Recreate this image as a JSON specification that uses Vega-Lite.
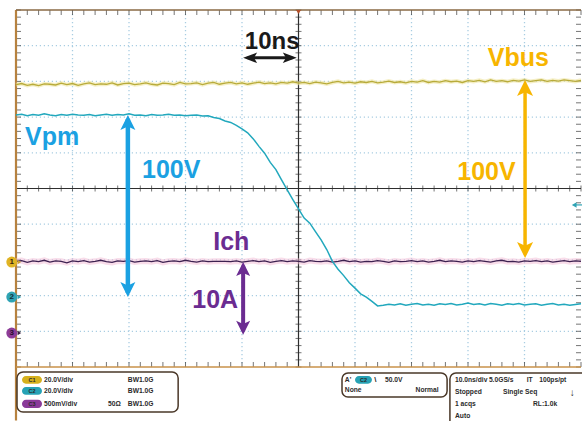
{
"$schema": "https://vega.github.io/schema/vega-lite/v6.json",
"width": 565, "height": 357,
"autosize": {"type": "none"},
"padding": {"left": 16, "top": 10, "right": 1, "bottom": 54},
"background": "white",
"config": {"view": {"stroke": null}, "axis": {"disable": true}, "text": {"font": "Liberation Sans"}},
"datasets": {
"trace": [
{"t":0,"vbus":2.91,"vpm":2.06,"ich":-2.04},{"t":1,"vbus":2.94,"vpm":2.08,"ich":-2.02},{"t":2,"vbus":2.89,"vpm":2.04,"ich":-2.07},{"t":3,"vbus":2.92,"vpm":2.07,"ich":-2.03},{"t":4,"vbus":2.88,"vpm":2.05,"ich":-2.05},{"t":5,"vbus":2.93,"vpm":2.09,"ich":-2.01},{"t":6,"vbus":2.92,"vpm":2.06,"ich":-2.06},{"t":7,"vbus":2.90,"vpm":2.04,"ich":-2.03},{"t":8,"vbus":2.95,"vpm":2.07,"ich":-2.04},{"t":9,"vbus":2.91,"vpm":2.05,"ich":-2.08},
{"t":10,"vbus":2.94,"vpm":2.08,"ich":-2.03},{"t":11,"vbus":2.89,"vpm":2.06,"ich":-2.05},{"t":12,"vbus":2.93,"vpm":2.05,"ich":-2.02},{"t":13,"vbus":2.96,"vpm":2.07,"ich":-2.06},{"t":14,"vbus":2.91,"vpm":2.04,"ich":-2.04},{"t":15,"vbus":2.93,"vpm":2.06,"ich":-2.01},{"t":16,"vbus":2.92,"vpm":2.08,"ich":-2.05},{"t":17,"vbus":2.96,"vpm":2.05,"ich":-2.07},{"t":18,"vbus":2.90,"vpm":2.07,"ich":-2.03},{"t":19,"vbus":2.94,"vpm":2.06,"ich":-2.04},
{"t":20,"vbus":2.95,"vpm":2.09,"ich":-2.02},{"t":21,"vbus":2.91,"vpm":2.05,"ich":-2.06},{"t":22,"vbus":2.93,"vpm":2.06,"ich":-2.04},{"t":23,"vbus":2.96,"vpm":2.04,"ich":-2.03},{"t":24,"vbus":2.92,"vpm":2.07,"ich":-2.05},{"t":25,"vbus":2.90,"vpm":2.05,"ich":-2.02},{"t":26,"vbus":2.95,"vpm":2.06,"ich":-2.07},{"t":27,"vbus":2.94,"vpm":2.08,"ich":-2.04},{"t":28,"vbus":2.91,"vpm":2.05,"ich":-2.03},{"t":29,"vbus":2.97,"vpm":2.06,"ich":-2.05},
{"t":30,"vbus":2.93,"vpm":2.04,"ich":-2.01},{"t":31,"vbus":2.94,"vpm":2.05,"ich":-2.04},{"t":32,"vbus":2.96,"vpm":2.06,"ich":-2.06},{"t":33,"vbus":2.91,"vpm":2.03,"ich":-2.03},{"t":34,"vbus":2.95,"vpm":2.04,"ich":-2.05},{"t":35,"vbus":2.97,"vpm":1.99,"ich":-2.04},{"t":36,"vbus":2.92,"vpm":1.96,"ich":-2.04},{"t":37,"vbus":2.95,"vpm":1.89,"ich":-2.04},{"t":38,"vbus":2.97,"vpm":1.85,"ich":-2.05},{"t":39,"vbus":2.93,"vpm":1.77,"ich":-2.03},
{"t":40,"vbus":2.96,"vpm":1.67,"ich":-2.06},{"t":41,"vbus":2.92,"vpm":1.56,"ich":-2.04},{"t":42,"vbus":2.95,"vpm":1.39,"ich":-2.02},{"t":43,"vbus":2.98,"vpm":1.18,"ich":-2.05},{"t":44,"vbus":2.94,"vpm":0.99,"ich":-2.03},{"t":45,"vbus":2.96,"vpm":0.73,"ich":-2.07},{"t":46,"vbus":2.93,"vpm":0.53,"ich":-2.04},{"t":47,"vbus":2.97,"vpm":0.24,"ich":-2.02},{"t":48,"vbus":2.95,"vpm":-0.04,"ich":-2.05},{"t":49,"vbus":2.99,"vpm":-0.31,"ich":-2.03},
{"t":50,"vbus":2.95,"vpm":-0.57,"ich":-2.04},{"t":51,"vbus":2.97,"vpm":-0.83,"ich":-2.06},{"t":52,"vbus":2.94,"vpm":-0.97,"ich":-2.02},{"t":53,"vbus":2.98,"vpm":-1.21,"ich":-2.04},{"t":54,"vbus":2.96,"vpm":-1.44,"ich":-2.05},{"t":55,"vbus":2.93,"vpm":-1.71,"ich":-2.03},{"t":56,"vbus":2.97,"vpm":-2.04,"ich":-2.06},{"t":57,"vbus":3.00,"vpm":-2.26,"ich":-2.04},{"t":58,"vbus":2.96,"vpm":-2.44,"ich":-2.01},{"t":59,"vbus":2.98,"vpm":-2.64,"ich":-2.05},
{"t":60,"vbus":2.95,"vpm":-2.79,"ich":-2.03},{"t":61,"vbus":2.99,"vpm":-2.95,"ich":-2.06},{"t":62,"vbus":2.97,"vpm":-3.04,"ich":-2.04},{"t":63,"vbus":3.00,"vpm":-3.16,"ich":-2.05},{"t":64,"vbus":2.96,"vpm":-3.29,"ich":-2.02},{"t":65,"vbus":2.98,"vpm":-3.27,"ich":-2.04},{"t":66,"vbus":3.01,"vpm":-3.24,"ich":-2.07},{"t":67,"vbus":2.97,"vpm":-3.26,"ich":-2.03},{"t":68,"vbus":2.99,"vpm":-3.23,"ich":-2.05},{"t":69,"vbus":2.96,"vpm":-3.27,"ich":-2.04},
{"t":70,"vbus":3.00,"vpm":-3.24,"ich":-2.02},{"t":71,"vbus":2.98,"vpm":-3.22,"ich":-2.05},{"t":72,"vbus":3.02,"vpm":-3.26,"ich":-2.03},{"t":73,"vbus":2.97,"vpm":-3.24,"ich":-2.06},{"t":74,"vbus":3.00,"vpm":-3.27,"ich":-2.04},{"t":75,"vbus":2.98,"vpm":-3.23,"ich":-2.01},{"t":76,"vbus":3.02,"vpm":-3.25,"ich":-2.05},{"t":77,"vbus":2.99,"vpm":-3.22,"ich":-2.03},{"t":78,"vbus":3.01,"vpm":-3.26,"ich":-2.04},{"t":79,"vbus":2.97,"vpm":-3.24,"ich":-2.06},
{"t":80,"vbus":3.02,"vpm":-3.21,"ich":-2.03},{"t":81,"vbus":3.00,"vpm":-3.25,"ich":-2.05},{"t":82,"vbus":3.03,"vpm":-3.23,"ich":-2.02},{"t":83,"vbus":2.99,"vpm":-3.26,"ich":-2.04},{"t":84,"vbus":3.04,"vpm":-3.22,"ich":-2.06},{"t":85,"vbus":3.00,"vpm":-3.24,"ich":-2.03},{"t":86,"vbus":3.02,"vpm":-3.27,"ich":-2.01},{"t":87,"vbus":2.99,"vpm":-3.23,"ich":-2.05},{"t":88,"vbus":3.03,"vpm":-3.25,"ich":-2.04},{"t":89,"vbus":3.01,"vpm":-3.22,"ich":-2.06},
{"t":90,"vbus":3.04,"vpm":-3.26,"ich":-2.03},{"t":91,"vbus":3.00,"vpm":-3.24,"ich":-2.04},{"t":92,"vbus":3.02,"vpm":-3.23,"ich":-2.02},{"t":93,"vbus":3.04,"vpm":-3.27,"ich":-2.05},{"t":94,"vbus":3.00,"vpm":-3.24,"ich":-2.03},{"t":95,"vbus":3.03,"vpm":-3.22,"ich":-2.06},{"t":96,"vbus":3.01,"vpm":-3.26,"ich":-2.04},{"t":97,"vbus":3.04,"vpm":-3.24,"ich":-2.02},{"t":98,"vbus":3.02,"vpm":-3.27,"ich":-2.05},{"t":99,"vbus":3.00,"vpm":-3.25,"ich":-2.03},
{"t":100,"vbus":3.03,"vpm":-3.23,"ich":-2.04}
],
"gx": [{"t":10},{"t":20},{"t":30},{"t":40},{"t":60},{"t":70},{"t":80},{"t":90}],
"gy": [{"d":-4},{"d":-3},{"d":-2},{"d":-1},{"d":1},{"d":2},{"d":3},{"d":4}],
"xt": [{"t":0},{"t":2},{"t":4},{"t":6},{"t":8},{"t":10},{"t":12},{"t":14},{"t":16},{"t":18},{"t":20},{"t":22},{"t":24},{"t":26},{"t":28},{"t":30},{"t":32},{"t":34},{"t":36},{"t":38},{"t":40},{"t":42},{"t":44},{"t":46},{"t":48},{"t":50},{"t":52},{"t":54},{"t":56},{"t":58},{"t":60},{"t":62},{"t":64},{"t":66},{"t":68},{"t":70},{"t":72},{"t":74},{"t":76},{"t":78},{"t":80},{"t":82},{"t":84},{"t":86},{"t":88},{"t":90},{"t":92},{"t":94},{"t":96},{"t":98},{"t":100}],
"yt": [{"d":-5},{"d":-4.8},{"d":-4.6},{"d":-4.4},{"d":-4.2},{"d":-4},{"d":-3.8},{"d":-3.6},{"d":-3.4},{"d":-3.2},{"d":-3},{"d":-2.8},{"d":-2.6},{"d":-2.4},{"d":-2.2},{"d":-2},{"d":-1.8},{"d":-1.6},{"d":-1.4},{"d":-1.2},{"d":-1},{"d":-0.8},{"d":-0.6},{"d":-0.4},{"d":-0.2},{"d":0},{"d":0.2},{"d":0.4},{"d":0.6},{"d":0.8},{"d":1},{"d":1.2},{"d":1.4},{"d":1.6},{"d":1.8},{"d":2},{"d":2.2},{"d":2.4},{"d":2.6},{"d":2.8},{"d":3},{"d":3.2},{"d":3.4},{"d":3.6},{"d":3.8},{"d":4},{"d":4.2},{"d":4.4},{"d":4.6},{"d":4.8},{"d":5}],
"one": [{}]
},
"layer": [
{"data": {"name": "trace"}, "mark": {"type": "line", "opacity": 0}, "encoding": {
  "x": {"field": "t", "type": "quantitative", "scale": {"domain": [0, 100], "nice": false, "zero": false}, "axis": null},
  "y": {"field": "vbus", "type": "quantitative", "scale": {"domain": [-5, 5], "nice": false, "zero": false}, "axis": null}}},
{"data": {"name": "gx"}, "mark": {"type": "rule", "color": "#a9cde2", "strokeDash": [1.2, 2.8], "strokeWidth": 1.3}, "encoding": {"x": {"field": "t", "type": "quantitative", "axis": null}}},
{"data": {"name": "gy"}, "mark": {"type": "rule", "color": "#a9cde2", "strokeDash": [1.2, 2.8], "strokeWidth": 1.3}, "encoding": {"y": {"field": "d", "type": "quantitative", "axis": null}}},
{"data": {"name": "xt"}, "mark": {"type": "tick", "orient": "vertical", "size": 6, "thickness": 1, "color": "#3a3a3a"}, "encoding": {"x": {"field": "t", "type": "quantitative", "axis": null}, "y": {"datum": 0}}},
{"data": {"name": "xt"}, "mark": {"type": "tick", "orient": "vertical", "size": 5, "thickness": 1, "color": "#3a3a3a", "yOffset": 2.5}, "encoding": {"x": {"field": "t", "type": "quantitative", "axis": null}, "y": {"datum": 5}}},
{"data": {"name": "xt"}, "mark": {"type": "tick", "orient": "vertical", "size": 5, "thickness": 1, "color": "#3a3a3a", "yOffset": -2.5}, "encoding": {"x": {"field": "t", "type": "quantitative", "axis": null}, "y": {"datum": -5}}},
{"data": {"name": "yt"}, "mark": {"type": "tick", "orient": "horizontal", "size": 6, "thickness": 1, "color": "#3a3a3a"}, "encoding": {"y": {"field": "d", "type": "quantitative", "axis": null}, "x": {"datum": 50}}},
{"data": {"name": "yt"}, "mark": {"type": "tick", "orient": "horizontal", "size": 5, "thickness": 1, "color": "#3a3a3a", "xOffset": 2.5}, "encoding": {"y": {"field": "d", "type": "quantitative", "axis": null}, "x": {"datum": 0}}},
{"data": {"name": "yt"}, "mark": {"type": "tick", "orient": "horizontal", "size": 5, "thickness": 1, "color": "#3a3a3a", "xOffset": -2.5}, "encoding": {"y": {"field": "d", "type": "quantitative", "axis": null}, "x": {"datum": 100}}},
{"data": {"name": "one"}, "layer": [
  {"mark": {"type": "rule", "color": "#2e2e2e", "strokeWidth": 1.2}, "encoding": {"x": {"datum": 50}}},
  {"mark": {"type": "rule", "color": "#2e2e2e", "strokeWidth": 1.2}, "encoding": {"y": {"datum": 0}}},
  {"mark": {"type": "rule", "color": "#b7823f", "strokeWidth": 2.2}, "encoding": {"x": {"datum": 0}, "y": {"datum": 5}, "y2": {"datum": -6.5}}},
  {"mark": {"type": "rule", "color": "#8a6a45", "strokeWidth": 1.5}, "encoding": {"y": {"datum": 5}}},
  {"mark": {"type": "rule", "color": "#c8924a", "strokeWidth": 1.5}, "encoding": {"y": {"datum": -5}}}
]},
{"data": {"name": "trace"}, "mark": {"type": "line", "color": "#efe4a0", "strokeWidth": 4, "opacity": 0.6}, "encoding": {"x": {"field": "t", "type": "quantitative", "axis": null}, "y": {"field": "vbus", "type": "quantitative", "axis": null}}},
{"data": {"name": "trace"}, "mark": {"type": "line", "color": "#b8ab3a", "strokeWidth": 1.3}, "encoding": {"x": {"field": "t", "type": "quantitative", "axis": null}, "y": {"field": "vbus", "type": "quantitative", "axis": null}}},
{"data": {"name": "trace"}, "mark": {"type": "line", "color": "#f3bcd6", "strokeWidth": 6, "opacity": 0.5}, "encoding": {"x": {"field": "t", "type": "quantitative", "axis": null}, "y": {"field": "ich", "type": "quantitative", "axis": null}}},
{"data": {"name": "trace"}, "mark": {"type": "line", "color": "#3d2150", "strokeWidth": 1.3}, "encoding": {"x": {"field": "t", "type": "quantitative", "axis": null}, "y": {"field": "ich", "type": "quantitative", "axis": null}}},
{"data": {"name": "trace"}, "mark": {"type": "line", "color": "#22a8bd", "strokeWidth": 1.5}, "encoding": {"x": {"field": "t", "type": "quantitative", "axis": null}, "y": {"field": "vpm", "type": "quantitative", "axis": null}}},
{"data": {"name": "one"}, "layer": [
  {"mark": {"type": "rule", "color": "#1ba1e2", "strokeWidth": 4.5}, "encoding": {"x": {"datum": 19.8}, "y": {"datum": 1.95}, "y2": {"datum": -2.93}}},
  {"mark": {"type": "point", "filled": true, "opacity": 1, "color": "#1ba1e2", "shape": "M0,-1L1,1L0,0.55L-1,1Z", "size": 225, "yOffset": 7.5}, "encoding": {"x": {"datum": 19.8}, "y": {"datum": 2.06}}},
  {"mark": {"type": "point", "filled": true, "opacity": 1, "color": "#1ba1e2", "shape": "M0,1L1,-1L0,-0.55L-1,-1Z", "size": 225, "yOffset": -7.5}, "encoding": {"x": {"datum": 19.8}, "y": {"datum": -3.04}}},
  {"mark": {"type": "rule", "color": "#f7b500", "strokeWidth": 3.5}, "encoding": {"x": {"datum": 90.1}, "y": {"datum": 2.93}, "y2": {"datum": -1.84}}},
  {"mark": {"type": "point", "filled": true, "opacity": 1, "color": "#f7b500", "shape": "M0,-1L1,1L0,0.55L-1,1Z", "size": 256, "yOffset": 8}, "encoding": {"x": {"datum": 90.1}, "y": {"datum": 3.04}}},
  {"mark": {"type": "point", "filled": true, "opacity": 1, "color": "#f7b500", "shape": "M0,1L1,-1L0,-0.55L-1,-1Z", "size": 256, "yOffset": -8}, "encoding": {"x": {"datum": 90.1}, "y": {"datum": -1.95}}},
  {"mark": {"type": "rule", "color": "#6b2c91", "strokeWidth": 4}, "encoding": {"x": {"datum": 40.2}, "y": {"datum": -2.16}, "y2": {"datum": -4.0}}},
  {"mark": {"type": "point", "filled": true, "opacity": 1, "color": "#6b2c91", "shape": "M0,-1L1,1L0,0.55L-1,1Z", "size": 196, "yOffset": 7}, "encoding": {"x": {"datum": 40.2}, "y": {"datum": -2.06}}},
  {"mark": {"type": "point", "filled": true, "opacity": 1, "color": "#6b2c91", "shape": "M0,1L1,-1L0,-0.55L-1,-1Z", "size": 196, "yOffset": -7}, "encoding": {"x": {"datum": 40.2}, "y": {"datum": -4.10}}},
  {"mark": {"type": "rule", "color": "#1a1a1a", "strokeWidth": 3}, "encoding": {"y": {"datum": 3.66}, "x": {"datum": 41.0}, "x2": {"datum": 48.9}}},
  {"mark": {"type": "point", "filled": true, "opacity": 1, "color": "#1a1a1a", "shape": "M-1,0L1,-0.75L0.55,0L1,0.75Z", "size": 196, "xOffset": 7}, "encoding": {"x": {"datum": 40.2}, "y": {"datum": 3.66}}},
  {"mark": {"type": "point", "filled": true, "opacity": 1, "color": "#1a1a1a", "shape": "M1,0L-1,-0.75L-0.55,0L-1,0.75Z", "size": 196, "xOffset": -7}, "encoding": {"x": {"datum": 49.7}, "y": {"datum": 3.66}}},
  {"mark": {"type": "text", "align": "left", "baseline": "alphabetic", "fontSize": 25, "fontWeight": "bold", "color": "#1ba1e2"}, "encoding": {"x": {"datum": 1.59}, "y": {"datum": 1.22}, "text": {"value": "Vpm"}}},
  {"mark": {"type": "text", "align": "left", "baseline": "alphabetic", "fontSize": 25, "fontWeight": "bold", "color": "#1ba1e2"}, "encoding": {"x": {"datum": 22.3}, "y": {"datum": 0.29}, "text": {"value": "100V"}}},
  {"mark": {"type": "text", "align": "left", "baseline": "alphabetic", "fontSize": 24, "fontWeight": "bold", "color": "#1a1a1a"}, "encoding": {"x": {"datum": 40.5}, "y": {"datum": 3.91}, "text": {"value": "10ns"}}},
  {"mark": {"type": "text", "align": "left", "baseline": "alphabetic", "fontSize": 25, "fontWeight": "bold", "color": "#f7b500"}, "encoding": {"x": {"datum": 83.5}, "y": {"datum": 3.43}, "text": {"value": "Vbus"}}},
  {"mark": {"type": "text", "align": "left", "baseline": "alphabetic", "fontSize": 25, "fontWeight": "bold", "color": "#f7b500"}, "encoding": {"x": {"datum": 78.1}, "y": {"datum": 0.24}, "text": {"value": "100V"}}},
  {"mark": {"type": "text", "align": "left", "baseline": "alphabetic", "fontSize": 25, "fontWeight": "bold", "color": "#6b2c91"}, "encoding": {"x": {"datum": 34.9}, "y": {"datum": -1.72}, "text": {"value": "Ich"}}},
  {"mark": {"type": "text", "align": "left", "baseline": "alphabetic", "fontSize": 25, "fontWeight": "bold", "color": "#6b2c91"}, "encoding": {"x": {"datum": 31.2}, "y": {"datum": -3.35}, "text": {"value": "10A"}}},
  {"mark": {"type": "point", "filled": true, "opacity": 1, "color": "#e0b424", "shape": "circle", "size": 120}, "encoding": {"x": {"datum": -0.75}, "y": {"datum": -2.06}}},
  {"mark": {"type": "point", "filled": true, "opacity": 1, "color": "#2ea3b4", "shape": "circle", "size": 120}, "encoding": {"x": {"datum": -0.75}, "y": {"datum": -3.04}}},
  {"mark": {"type": "point", "filled": true, "opacity": 1, "color": "#8d3c98", "shape": "circle", "size": 120}, "encoding": {"x": {"datum": -0.75}, "y": {"datum": -4.05}}},
  {"mark": {"type": "text", "align": "center", "baseline": "middle", "fontSize": 8, "fontWeight": "bold", "color": "#3a2a10"}, "encoding": {"x": {"datum": -0.75}, "y": {"datum": -2.06}, "text": {"value": "1"}}},
  {"mark": {"type": "text", "align": "center", "baseline": "middle", "fontSize": 8, "fontWeight": "bold", "color": "#10303a"}, "encoding": {"x": {"datum": -0.75}, "y": {"datum": -3.04}, "text": {"value": "2"}}},
  {"mark": {"type": "text", "align": "center", "baseline": "middle", "fontSize": 8, "fontWeight": "bold", "color": "#2a1030"}, "encoding": {"x": {"datum": -0.75}, "y": {"datum": -4.05}, "text": {"value": "3"}}},
  {"mark": {"type": "point", "filled": true, "opacity": 1, "color": "#c9a030", "shape": "triangle-right", "size": 18}, "encoding": {"x": {"datum": 0.6}, "y": {"datum": -2.06}}},
  {"mark": {"type": "point", "filled": true, "opacity": 1, "color": "#2ea3b4", "shape": "triangle-right", "size": 18}, "encoding": {"x": {"datum": 0.6}, "y": {"datum": -3.04}}},
  {"mark": {"type": "point", "filled": true, "opacity": 1, "color": "#3a2040", "shape": "triangle-right", "size": 18}, "encoding": {"x": {"datum": 0.6}, "y": {"datum": -4.05}}},
  {"mark": {"type": "point", "filled": true, "opacity": 1, "color": "#2ea3b4", "shape": "triangle-left", "size": 30}, "encoding": {"x": {"datum": 98.8}, "y": {"datum": -0.46}}},
  {"mark": {"type": "rule", "color": "#2ea3b4", "strokeWidth": 1.2}, "encoding": {"x": {"datum": 99.1}, "x2": {"datum": 100.5}, "y": {"datum": -0.46}}},
  {"mark": {"type": "point", "filled": true, "opacity": 1, "color": "#b4502a", "shape": "triangle-down", "size": 24, "yOffset": 2}, "encoding": {"x": {"datum": 50}, "y": {"datum": 5}}},

  {"mark": {"type": "rect", "fill": "white", "stroke": "#4a3828", "strokeWidth": 1.5, "cornerRadius": 6}, "encoding": {"x": {"datum": 0.18}, "x2": {"datum": 28.7}, "y": {"datum": -5.14}, "y2": {"datum": -6.26}}},
  {"mark": {"type": "rect", "fill": "white", "stroke": "#4a3828", "strokeWidth": 1.5, "cornerRadius": 6}, "encoding": {"x": {"datum": 57.7}, "x2": {"datum": 76.3}, "y": {"datum": -5.17}, "y2": {"datum": -5.84}}},
  {"mark": {"type": "rect", "fill": "white", "stroke": "#4a3828", "strokeWidth": 1.5, "cornerRadius": 6}, "encoding": {"x": {"datum": 76.8}, "x2": {"datum": 103}, "y": {"datum": -5.17}, "y2": {"datum": -6.9}}},
  {"mark": {"type": "rect", "fill": "#d6b11c", "cornerRadius": 4}, "encoding": {"x": {"datum": 1.06}, "x2": {"datum": 4.6}, "y": {"datum": -5.25}, "y2": {"datum": -5.47}}},
  {"mark": {"type": "rect", "fill": "#27a2b5", "cornerRadius": 4}, "encoding": {"x": {"datum": 1.06}, "x2": {"datum": 4.6}, "y": {"datum": -5.56}, "y2": {"datum": -5.78}}},
  {"mark": {"type": "rect", "fill": "#8a3b99", "cornerRadius": 4}, "encoding": {"x": {"datum": 1.06}, "x2": {"datum": 4.6}, "y": {"datum": -5.92}, "y2": {"datum": -6.15}}},
  {"mark": {"type": "rect", "fill": "#27a2b5", "cornerRadius": 4}, "encoding": {"x": {"datum": 60.0}, "x2": {"datum": 63.0}, "y": {"datum": -5.25}, "y2": {"datum": -5.47}}},
  {"mark": {"type": "text", "align": "center", "baseline": "middle", "fontSize": 5.5, "fontWeight": "bold", "color": "#2a2a2a"}, "encoding": {"x": {"datum": 2.83}, "y": {"datum": -5.36}, "text": {"value": "C1"}}},
  {"mark": {"type": "text", "align": "center", "baseline": "middle", "fontSize": 5.5, "fontWeight": "bold", "color": "#2a2a2a"}, "encoding": {"x": {"datum": 2.83}, "y": {"datum": -5.67}, "text": {"value": "C2"}}},
  {"mark": {"type": "text", "align": "center", "baseline": "middle", "fontSize": 5.5, "fontWeight": "bold", "color": "#2a2a2a"}, "encoding": {"x": {"datum": 2.83}, "y": {"datum": -6.04}, "text": {"value": "C3"}}},
  {"mark": {"type": "text", "align": "center", "baseline": "middle", "fontSize": 5.5, "fontWeight": "bold", "color": "#2a2a2a"}, "encoding": {"x": {"datum": 61.5}, "y": {"datum": -5.36}, "text": {"value": "C2"}}},
  {"mark": {"type": "text", "align": "left", "baseline": "middle", "fontSize": 6.7, "fontWeight": "bold", "color": "#2a2a2a"}, "encoding": {"x": {"datum": 4.96}, "y": {"datum": -5.36}, "text": {"value": "20.0V/div"}}},
  {"mark": {"type": "text", "align": "left", "baseline": "middle", "fontSize": 6.7, "fontWeight": "bold", "color": "#2a2a2a"}, "encoding": {"x": {"datum": 4.96}, "y": {"datum": -5.67}, "text": {"value": "20.0V/div"}}},
  {"mark": {"type": "text", "align": "left", "baseline": "middle", "fontSize": 6.7, "fontWeight": "bold", "color": "#2a2a2a"}, "encoding": {"x": {"datum": 4.96}, "y": {"datum": -6.04}, "text": {"value": "500mV/div"}}},
  {"mark": {"type": "text", "align": "left", "baseline": "middle", "fontSize": 6.7, "fontWeight": "bold", "color": "#2a2a2a"}, "encoding": {"x": {"datum": 19.8}, "y": {"datum": -5.36}, "text": {"value": "BW1.0G"}}},
  {"mark": {"type": "text", "align": "left", "baseline": "middle", "fontSize": 6.7, "fontWeight": "bold", "color": "#2a2a2a"}, "encoding": {"x": {"datum": 19.8}, "y": {"datum": -5.67}, "text": {"value": "BW1.0G"}}},
  {"mark": {"type": "text", "align": "left", "baseline": "middle", "fontSize": 6.7, "fontWeight": "bold", "color": "#2a2a2a"}, "encoding": {"x": {"datum": 19.8}, "y": {"datum": -6.04}, "text": {"value": "BW1.0G"}}},
  {"mark": {"type": "text", "align": "left", "baseline": "middle", "fontSize": 6.7, "fontWeight": "bold", "color": "#2a2a2a"}, "encoding": {"x": {"datum": 16.3}, "y": {"datum": -6.04}, "text": {"value": "50Ω"}}},
  {"mark": {"type": "text", "align": "left", "baseline": "middle", "fontSize": 6.7, "fontWeight": "bold", "color": "#2a2a2a"}, "encoding": {"x": {"datum": 58.2}, "y": {"datum": -5.36}, "text": {"value": "A'"}}},
  {"mark": {"type": "text", "align": "left", "baseline": "middle", "fontSize": 8, "fontWeight": "bold", "color": "#2a2a2a"}, "encoding": {"x": {"datum": 63.4}, "y": {"datum": -5.36}, "text": {"value": "\\"}}},
  {"mark": {"type": "text", "align": "left", "baseline": "middle", "fontSize": 6.7, "fontWeight": "bold", "color": "#2a2a2a"}, "encoding": {"x": {"datum": 65.3}, "y": {"datum": -5.36}, "text": {"value": "50.0V"}}},
  {"mark": {"type": "text", "align": "left", "baseline": "middle", "fontSize": 6.7, "fontWeight": "bold", "color": "#2a2a2a"}, "encoding": {"x": {"datum": 58.2}, "y": {"datum": -5.64}, "text": {"value": "None"}}},
  {"mark": {"type": "text", "align": "right", "baseline": "middle", "fontSize": 6.7, "fontWeight": "bold", "color": "#2a2a2a"}, "encoding": {"x": {"datum": 74.8}, "y": {"datum": -5.64}, "text": {"value": "Normal"}}},
  {"mark": {"type": "text", "align": "left", "baseline": "middle", "fontSize": 6.7, "fontWeight": "bold", "color": "#2a2a2a"}, "encoding": {"x": {"datum": 77.7}, "y": {"datum": -5.36}, "text": {"value": "10.0ns/div"}}},
  {"mark": {"type": "text", "align": "left", "baseline": "middle", "fontSize": 6.7, "fontWeight": "bold", "color": "#2a2a2a"}, "encoding": {"x": {"datum": 83.7}, "y": {"datum": -5.36}, "text": {"value": "5.0GS/s"}}},
  {"mark": {"type": "text", "align": "left", "baseline": "middle", "fontSize": 6.7, "fontWeight": "bold", "color": "#2a2a2a"}, "encoding": {"x": {"datum": 90.4}, "y": {"datum": -5.36}, "text": {"value": "IT"}}},
  {"mark": {"type": "text", "align": "left", "baseline": "middle", "fontSize": 6.7, "fontWeight": "bold", "color": "#2a2a2a"}, "encoding": {"x": {"datum": 92.6}, "y": {"datum": -5.36}, "text": {"value": "100ps/pt"}}},
  {"mark": {"type": "text", "align": "left", "baseline": "middle", "fontSize": 6.7, "fontWeight": "bold", "color": "#2a2a2a"}, "encoding": {"x": {"datum": 77.7}, "y": {"datum": -5.70}, "text": {"value": "Stopped"}}},
  {"mark": {"type": "text", "align": "left", "baseline": "middle", "fontSize": 6.7, "fontWeight": "bold", "color": "#2a2a2a"}, "encoding": {"x": {"datum": 86.2}, "y": {"datum": -5.70}, "text": {"value": "Single Seq"}}},
  {"mark": {"type": "text", "align": "left", "baseline": "middle", "fontSize": 10, "fontWeight": "bold", "color": "#2a2a2a"}, "encoding": {"x": {"datum": 98.0}, "y": {"datum": -5.72}, "text": {"value": "↓"}}},
  {"mark": {"type": "text", "align": "left", "baseline": "middle", "fontSize": 6.7, "fontWeight": "bold", "color": "#2a2a2a"}, "encoding": {"x": {"datum": 77.7}, "y": {"datum": -6.04}, "text": {"value": "1 acqs"}}},
  {"mark": {"type": "text", "align": "left", "baseline": "middle", "fontSize": 6.7, "fontWeight": "bold", "color": "#2a2a2a"}, "encoding": {"x": {"datum": 91.5}, "y": {"datum": -6.04}, "text": {"value": "RL:1.0k"}}},
  {"mark": {"type": "text", "align": "left", "baseline": "middle", "fontSize": 6.7, "fontWeight": "bold", "color": "#2a2a2a"}, "encoding": {"x": {"datum": 77.7}, "y": {"datum": -6.37}, "text": {"value": "Auto"}}}
]}
]
}
